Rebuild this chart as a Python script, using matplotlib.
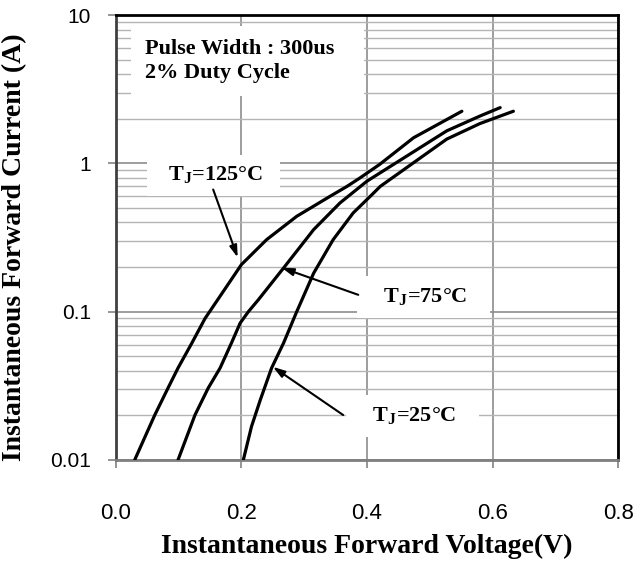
import numpy as np
import matplotlib
matplotlib.use("Agg")
import matplotlib.pyplot as plt
from matplotlib.ticker import FixedLocator, NullFormatter

plt.rcParams['mathtext.fontset'] = 'custom'
plt.rcParams['mathtext.rm'] = 'Liberation Serif:bold'
plt.rcParams['mathtext.bf'] = 'Liberation Serif:bold'

###     DATA     ###
v_125 = [0.030, 0.062, 0.083, 0.099, 0.121, 0.142, 0.200, 0.240,
         0.288, 0.341, 0.368, 0.389, 0.420, 0.474, 0.551]
i_125 = [0.010, 0.0201, 0.0305, 0.0417, 0.0614, 0.090, 0.208, 0.306,
         0.440, 0.600, 0.700, 0.800, 0.985, 1.490, 2.250]

v_75 = [0.099, 0.126, 0.147, 0.166, 0.184, 0.198, 0.211, 0.216, 0.227, 0.267,
        0.315, 0.357, 0.400, 0.421, 0.527, 0.580, 0.612]
i_75 = [0.010, 0.0201, 0.0305, 0.0417, 0.0614, 0.0839, 0.100, 0.106, 0.1205, 0.197,
        0.358, 0.542, 0.760, 0.865, 1.660, 2.090, 2.380]

v_25 = [0.203, 0.216, 0.230, 0.248, 0.267, 0.288, 0.315, 0.346, 0.378,
        0.408, 0.421, 0.527, 0.580, 0.633]
i_25 = [0.010, 0.0168, 0.0254, 0.0417, 0.0614, 0.100, 0.182, 0.306, 0.464,
        0.617, 0.700, 1.460, 1.860, 2.250]

x_ticks = [0.0, 0.2, 0.4, 0.6, 0.8]
x_labels = ['0.0', '0.2', '0.4', '0.6', '0.8']
y_ticks = [0.01, 0.1, 1, 10]
y_labels = ['0.01', '0.1', '1', '10']

serif = 'Liberation Serif'
sans = 'Liberation Sans'

###     FIGURE     ###
fig = plt.figure(figsize=(6.4, 5.63), dpi=100)
ax = fig.add_axes([0.181, 0.183, 0.785, 0.790])

ax.set_yscale('log')
ax.set_xlim(0, 0.8)
ax.set_ylim(0.01, 10)

# grid: every horizontal log line, vertical only at the major ticks
ax.yaxis.set_minor_locator(FixedLocator([m * 10.0 ** e for e in (-2, -1, 0) for m in range(2, 10)]))
ax.yaxis.set_minor_formatter(NullFormatter())
ax.set_axisbelow(True)
ax.grid(True, which='major', axis='both', color='#8c8c8c', lw=1.2)
ax.grid(True, which='minor', axis='y', color='#b4b4b4', lw=1.0)

for v, i in ((v_125, i_125), (v_75, i_75), (v_25, i_25)):
    ax.plot(v, i, color='black', lw=2.3, solid_capstyle='round',
            solid_joinstyle='round', zorder=3)

ax.set_xticks(x_ticks)
ax.set_xticklabels(x_labels, fontsize=16, family=sans)
ax.set_yticks(y_ticks)
ax.set_yticklabels(y_labels, fontsize=15, family=sans)
ax.tick_params(axis='x', which='major', direction='out', length=6, width=1.3, color='#8c8c8c', pad=25)
ax.tick_params(axis='y', which='major', direction='out', length=6, width=1.3, color='#8c8c8c', pad=12)
ax.tick_params(axis='y', which='minor', length=0)

ax.set_xlabel('Instantaneous Forward Voltage(V)', fontsize=20, family=serif, fontweight='bold', labelpad=7)
ax.set_ylabel('Instantaneous Forward Current (A)', fontsize=20, family=serif, fontweight='bold')
ax.yaxis.set_label_coords(-0.177, 0.479)

for side in ('top', 'right'):
    ax.spines[side].set_color('black')
    ax.spines[side].set_linewidth(2.0)
ax.spines['left'].set_color('#404040')
ax.spines['left'].set_linewidth(2.0)
ax.spines['bottom'].set_color('#7f7f7f')
ax.spines['bottom'].set_linewidth(2.0)

###     ANNOTATIONS     ###
box = dict(boxstyle='square,pad=0.45', facecolor='white', edgecolor='none')
ax.text(0.046, 4.9, 'Pulse Width : 300us   \n2% Duty Cycle', fontsize=16, family=serif,
        fontweight='bold', ha='left', va='center', linespacing=1.25,
        bbox=dict(boxstyle='square,pad=0.6', facecolor='white', edgecolor='none'), zorder=4)

arrow = dict(arrowstyle='-|>,head_length=0.7,head_width=0.22', color='black', lw=1.5,
             shrinkA=0, shrinkB=0)

ax.annotate('', xy=(0.194, 0.232), xytext=(0.155, 0.667), arrowprops=arrow, zorder=5)
ax.text(0.155, 0.83, '  T$_{\\mathrm{J}}$=125\u00b0C  ', fontsize=16, family=serif,
        fontweight='bold', ha='center', va='center', bbox=box, zorder=4)

ax.annotate('', xy=(0.264, 0.198), xytext=(0.386, 0.130), arrowprops=arrow, zorder=5)
ax.text(0.49, 0.126, '   T$_{\\mathrm{J}}$=75\u00b0C   ', fontsize=16, family=serif,
        fontweight='bold', ha='center', va='center', bbox=box, zorder=4)

ax.annotate('', xy=(0.250, 0.0425), xytext=(0.362, 0.0201), arrowprops=arrow, zorder=5)
ax.text(0.472, 0.0198, '   T$_{\\mathrm{J}}$=25\u00b0C   ', fontsize=16, family=serif,
        fontweight='bold', ha='center', va='center', bbox=box, zorder=4)

fig.savefig('out.png', dpi=100)
